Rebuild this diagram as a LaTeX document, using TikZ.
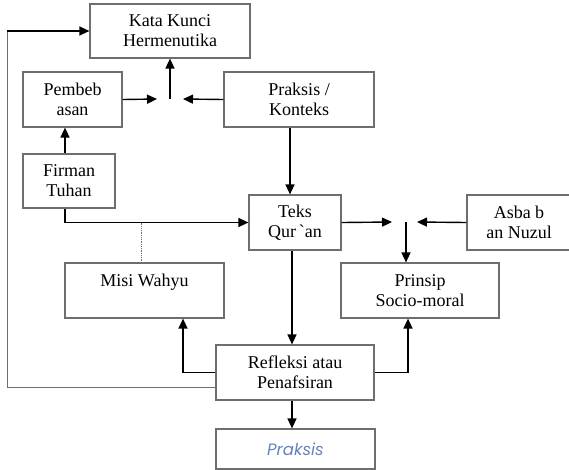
\documentclass[tikz,border=0pt]{standalone}
\usepackage{fontspec}
\setmainfont{Liberation Serif}
\newfontfamily\praxfont{Poppins}
\usetikzlibrary{arrows.meta}
\definecolor{boxgray}{RGB}{110,110,110}
\definecolor{praxblue}{RGB}{100,130,190}
\tikzset{
    box/.style={draw=boxgray, line width=1.2pt, rectangle, align=center, inner sep=0pt,
        font=\fontsize{18}{20}\selectfont},
    arr/.style={-{Triangle[length=10pt,width=9pt]}, line width=1.4pt},
    fb/.style={boxgray, line width=1pt},
    link/.style={densely dotted, line width=0.8pt, boxgray}
}
\begin{document}
\begin{tikzpicture}[x=1pt, y=-1pt]
      \useasboundingbox (0,0) rectangle (569,469);

      % boxes
      \node[box, minimum width=160pt, minimum height=54pt] (kunci) at (170,31) {Kata Kunci\\Hermenutika};
      \node[box, minimum width=99pt, minimum height=55pt] (pembeb) at (72.5,99.5) {Pembeb\\asan};
      \node[box, minimum width=150pt, minimum height=55pt] (konteks) at (299,99.5) {Praksis /\\Konteks};
      \node[box, minimum width=92pt, minimum height=54pt] (firman) at (69,181) {Firman\\Tuhan};
      \node[box, minimum width=92pt, minimum height=55pt] (teks) at (295,222.5) {Teks\\Qur\,\textasciigrave an};
      \node[box, minimum width=104pt, minimum height=55pt] (asbab) at (519,222.5) {Asba b\\an Nuzul};
      \node[box, minimum width=158pt, minimum height=55pt] (prinsip) at (420,290.5) {Prinsip\\Socio-moral};
      \node[box, minimum width=159pt, minimum height=55pt] (misi) at (144.5,290.5) {Misi Wahyu\\\mbox{}};
      \node[box, minimum width=158pt, minimum height=55pt] (refleksi) at (295,372.5) {Refleksi atau\\Penafsiran};
      \node[box, minimum width=159pt, minimum height=40pt, text=praxblue,
            font=\praxfont\itshape\fontsize{16.5}{18}\selectfont] (praksis) at (295.5,449) {Praksis};

      % meeting points
      \coordinate (jtop) at (170,99);
      \coordinate (jmid) at (406,222);
      \coordinate (fbk) at (7,387);

      \draw[arr] (pembeb.east) -- ([xshift=-13pt]jtop);
      \draw[arr] (konteks.west) -- ([xshift=13pt]jtop);
      \draw[arr] (jtop) -- (kunci.south -| jtop);
      \draw[arr] ([xshift=-9pt]konteks.south) -- ([xshift=-9pt]konteks.south |- teks.north);
      \draw[arr] ([xshift=-4pt]firman.north) -- ([xshift=-4pt]firman.north |- pembeb.south);
      \draw[arr] ([xshift=-4pt]firman.south) |- (teks.west);
      \draw[link] ([xshift=-3pt]misi.north |- teks.west) -- ([xshift=-3pt]misi.north);

      \draw[arr] (teks.east) -- ([xshift=-14pt]jmid);
      \draw[arr] (asbab.west) -- ([xshift=11pt]jmid);
      \draw[arr] (jmid) -- (jmid |- prinsip.north);

      \draw[arr] ([xshift=-3pt]teks.south) -- ([xshift=-3pt]refleksi.north);
      \draw[arr] ([xshift=-3pt]refleksi.south) -- ([xshift=-3pt]refleksi.south |- praksis.north);
      \draw[arr] (refleksi.west) -| ([xshift=38.5pt]misi.south);
      \draw[arr] (refleksi.east) -| ([xshift=-12pt]prinsip.south);

      % feedback
      \draw[fb] ([yshift=-14.5pt]refleksi.west) -- (fbk) -- (fbk |- kunci.west);
      \draw[arr] (fbk |- kunci.west) -- (kunci.west);
\end{tikzpicture}
\end{document}
